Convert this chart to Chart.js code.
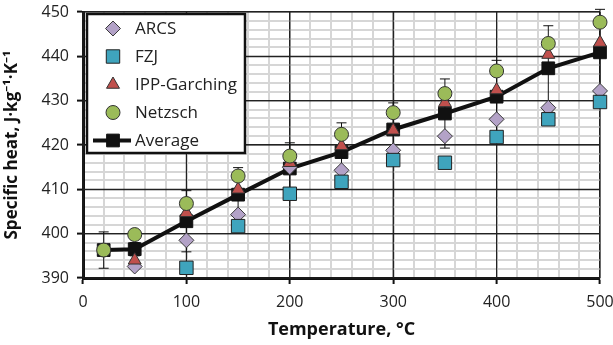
<!DOCTYPE html>
<html>
<head>
<meta charset="utf-8">
<script src="https://cdn.jsdelivr.net/npm/chart.js@4"></script>
<style>
    html, body { margin: 0; padding: 0; background: #fff; }
    #wrap { width: 613px; height: 345px; }
</style>
</head>
<body>
<div id="wrap"><canvas id="heatChart" width="613" height="345"></canvas></div>
<script>
// Data
const temps = [20, 50, 100, 150, 200, 250, 300, 350, 400, 450, 500];
const arcs = [null, 392.6, 398.5, 404.3, 415.0, 414.3, 418.8, 422.0, 425.8, 428.4, 432.2];
const fzj = [null, null, 392.3, 401.7, 409.0, 411.7, 416.6, 416.0, 421.8, 425.8, 429.7];
const ipp = [null, 394.0, 404.7, 410.0, 416.0, 419.8, 423.3, 429.5, 432.4, 440.4, 443.1];
const netzsch = [396.3, 399.8, 406.8, 413.0, 417.5, 422.4, 427.3, 431.6, 436.7, 442.9, 447.7];
const average = [396.3, 396.5, 402.8, 408.8, 414.7, 418.4, 423.5, 427.1, 430.9, 437.3, 440.9];
const averageError = [4.1, 1.5, 6.9, 6.1, 5.8, 6.6, 6.0, 7.8, 8.2, 9.6, 9.7];

const xTicks = [0, 100, 200, 300, 400, 500];
const yTicks = [390, 400, 410, 420, 430, 440, 450];

const FONT = '"Open Sans", "Noto Sans", sans-serif';

function toPoints(values) {
    return temps.map((t, i) => ({ x: t, y: values[i] })).filter(p => p.y !== null);
}

// Major grid lines drawn over the light minor ones, then error bars
const majorGridAndErrors = {
    id: 'majorGridAndErrors',
    beforeDatasetsDraw(chart) {
        const ctx = chart.ctx;
        const xs = chart.scales.x;
        const ys = chart.scales.y;
        const area = chart.chartArea;
        ctx.save();
        ctx.strokeStyle = '#222';
        ctx.lineWidth = 1.2;
        xTicks.forEach(t => {
            const px = xs.getPixelForValue(t);
            ctx.beginPath();
            ctx.moveTo(px, area.top);
            ctx.lineTo(px, area.bottom);
            ctx.stroke();
        });
        yTicks.forEach(t => {
            const py = ys.getPixelForValue(t);
            ctx.beginPath();
            ctx.moveTo(area.left, py);
            ctx.lineTo(area.right, py);
            ctx.stroke();
        });

        ctx.strokeStyle = '#111';
        ctx.lineWidth = 1;
        temps.forEach((t, i) => {
            const px = xs.getPixelForValue(t);
            const top = ys.getPixelForValue(average[i] + averageError[i]);
            const bottom = ys.getPixelForValue(average[i] - averageError[i]);
            ctx.beginPath();
            ctx.moveTo(px, top);
            ctx.lineTo(px, bottom);
            ctx.moveTo(px - 5, top);
            ctx.lineTo(px + 5, top);
            ctx.moveTo(px - 5, bottom);
            ctx.lineTo(px + 5, bottom);
            ctx.stroke();
        });
        ctx.restore();
    }
};

// Boxed legend inside the plot, top left
const boxLegend = {
    id: 'boxLegend',
    afterDraw(chart) {
        const ctx = chart.ctx;
        const left = 87, top = 14, width = 158, height = 139;
        ctx.save();
        ctx.fillStyle = '#fff';
        ctx.fillRect(left, top, width, height);
        ctx.strokeStyle = '#111';
        ctx.lineWidth = 2.5;
        ctx.strokeRect(left, top, width, height);

        const order = [1, 2, 3, 4, 0];
        order.forEach((di, row) => {
            const ds = chart.data.datasets[di];
            const y = 28.5 + row * 28;
            if (ds.showLine) {
                ctx.strokeStyle = ds.borderColor;
                ctx.lineWidth = ds.borderWidth;
                ctx.beginPath();
                ctx.moveTo(93, y);
                ctx.lineTo(131, y);
                ctx.stroke();
            }
            ctx.fillStyle = ds.pointBackgroundColor;
            ctx.strokeStyle = ds.pointBorderColor;
            ctx.lineWidth = 1;
            Chart.helpers.drawPoint(ctx, {
                pointStyle: ds.pointStyle,
                radius: ds.pointRadius,
                borderWidth: 1,
                rotation: 0
            }, 113, y);
            ctx.font = '17px ' + FONT;
            ctx.textBaseline = 'middle';
            ctx.fillStyle = '#222';
            ctx.fillText(ds.label, 135, y + 1);
        });
        ctx.restore();
    }
};

const ctx = document.getElementById('heatChart').getContext('2d');
const heatChart = new Chart(ctx, {
    type: 'scatter',
    data: {
        datasets: [
            {
                label: 'Average',
                data: toPoints(average),
                showLine: true,
                borderColor: '#111',
                borderWidth: 4,
                pointStyle: 'rect',
                pointRadius: 9,
                pointBackgroundColor: '#111',
                pointBorderColor: '#111',
                pointBorderWidth: 1,
                clip: false,
                order: 5
            },
            {
                label: 'ARCS',
                data: toPoints(arcs),
                pointStyle: 'rectRot',
                pointRadius: 7.5,
                pointBackgroundColor: '#b3a2c7',
                pointBorderColor: '#3a3a3a',
                pointBorderWidth: 1,
                clip: false,
                order: 4
            },
            {
                label: 'FZJ',
                data: toPoints(fzj),
                pointStyle: 'rect',
                pointRadius: 9.5,
                pointBackgroundColor: '#3fa4bd',
                pointBorderColor: '#222',
                pointBorderWidth: 1,
                clip: false,
                order: 3
            },
            {
                label: 'IPP-Garching',
                data: toPoints(ipp),
                pointStyle: 'triangle',
                pointRadius: 7.5,
                pointBackgroundColor: '#c0504d',
                pointBorderColor: '#333',
                pointBorderWidth: 1,
                clip: false,
                order: 2
            },
            {
                label: 'Netzsch',
                data: toPoints(netzsch),
                pointStyle: 'circle',
                pointRadius: 7,
                pointBackgroundColor: '#9bbb59',
                pointBorderColor: '#333',
                pointBorderWidth: 1,
                clip: false,
                order: 1
            }
        ]
    },
    options: {
        responsive: false,
        animation: false,
        layout: { padding: { top: 12, right: 13, left: 0, bottom: 0 } },
        plugins: {
            legend: { display: false },
            tooltip: { enabled: false }
        },
        scales: {
            x: {
                type: 'linear',
                min: 0,
                max: 500,
                afterFit(scale) {
                    scale.height = 67;
                    scale.paddingLeft = 0;
                    scale.paddingRight = 0;
                },
                border: { color: '#111', width: 3 },
                grid: {
                    color: c => (c.tick.value % 100 === 0 ? '#222' : '#d6d6d6'),
                    lineWidth: c => (c.tick.value % 100 === 0 ? 1.2 : 2),
                    tickColor: c => (c.tick.value % 100 === 0 ? '#111' : 'rgba(0,0,0,0)'),
                    tickLength: 6,
                    tickWidth: 2
                },
                ticks: {
                    stepSize: 20,
                    autoSkip: false,
                    maxRotation: 0,
                    padding: 9,
                    color: '#222',
                    font: { family: FONT, size: 16 },
                    callback: v => (xTicks.includes(v) ? String(v) : '')
                },
                title: {
                    display: true,
                    text: 'Temperature, °C',
                    color: '#111',
                    font: { family: FONT, size: 18, weight: 'bold' },
                    padding: { top: 6 }
                }
            },
            y: {
                type: 'linear',
                min: 390,
                max: 450,
                afterFit(scale) {
                    scale.width = 83;
                    scale.paddingTop = 0;
                    scale.paddingBottom = 0;
                },
                border: { color: '#111', width: 3 },
                grid: {
                    color: c => (c.tick.value % 10 === 0 ? '#222' : '#d6d6d6'),
                    lineWidth: c => (c.tick.value % 10 === 0 ? 1.2 : 2),
                    tickColor: c => (c.tick.value % 10 === 0 ? '#111' : 'rgba(0,0,0,0)'),
                    tickLength: 6,
                    tickWidth: 2
                },
                ticks: {
                    stepSize: 2,
                    autoSkip: false,
                    padding: 8,
                    color: '#222',
                    font: { family: FONT, size: 16 },
                    callback: v => (yTicks.includes(v) ? String(v) : '')
                },
                title: {
                    display: true,
                    text: 'Specific heat, J·kg⁻¹·K⁻¹',
                    color: '#111',
                    font: { family: FONT, size: 17, weight: 'bold' },
                    padding: { top: 2, bottom: 6 }
                }
            }
        }
    },
    plugins: [majorGridAndErrors, boxLegend]
});
</script>
</body>
</html>
